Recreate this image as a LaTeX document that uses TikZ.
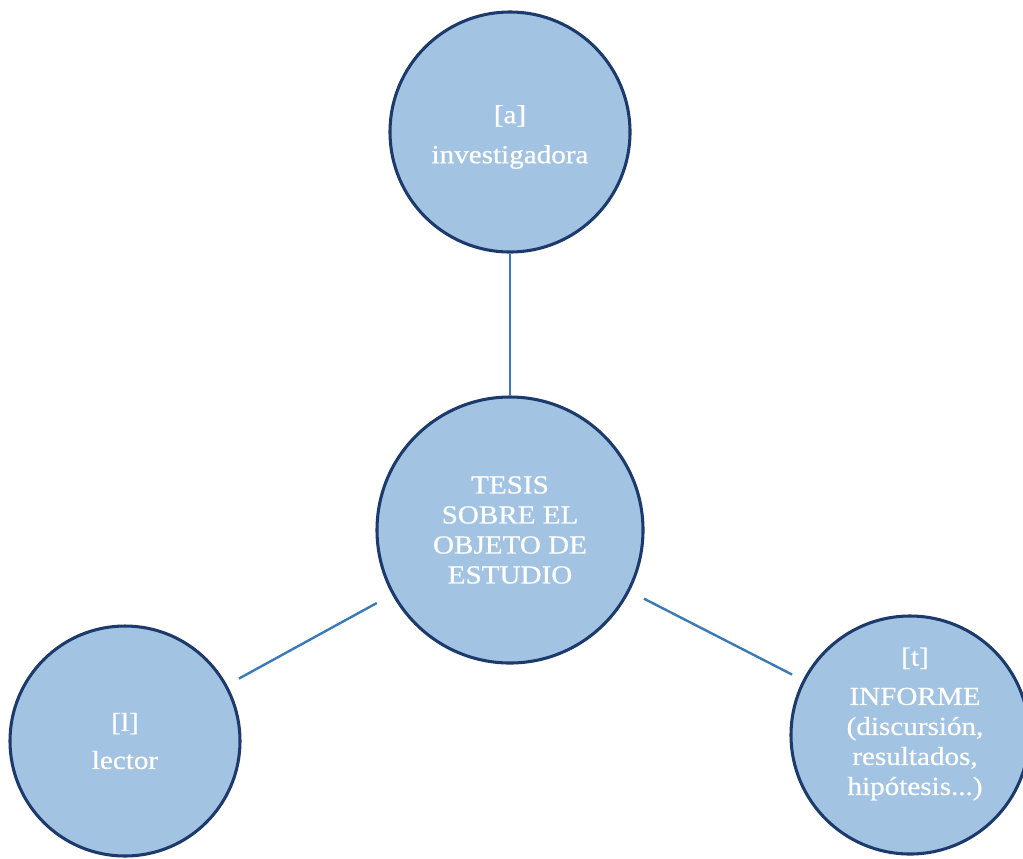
\documentclass[tikz,border=0pt]{standalone}
\usepackage{fontspec}
\setmainfont{Liberation Serif}[FakeStretch=1.12, FakeBold=0.6]
\definecolor{bubblefill}{RGB}{163,195,227}
\definecolor{bubbleedge}{RGB}{28,58,108}
\definecolor{linkblue}{RGB}{58,122,182}
\tikzset{
  bubble/.style={circle, draw=bubbleedge, line width=2.3pt, fill=bubblefill, inner sep=0pt},
  bubbletext/.style={text=white, align=center, inner sep=0pt,
    font=\fontsize{19.5}{22.5}\selectfont},
  conn/.style={draw=linkblue, line width=1.8pt}
}
\begin{document}
\begin{tikzpicture}[x=0.75pt, y=-0.75pt]
  \useasboundingbox (0,0) rectangle (1023,858);
  % circles
  \node[bubble, minimum size=180pt]   (inv) at (510,132) {};
  \node[bubble, minimum size=199.5pt] (tes) at (510,530) {};
  \node[bubble, minimum size=172.5pt] (lec) at (125,741) {};
  \node[bubble, minimum size=178.5pt] (inf) at (910,735) {};
  % connectors
  \draw[conn] (inv) -- (tes);
  \draw[conn, shorten <=13pt, shorten >=10pt] (tes) -- (lec);
  \draw[conn, shorten <=12pt, shorten >=9pt] (tes) -- (inf);
  % labels
  \node[bubbletext] (invT) at (510,137) {[a]\\[7.5pt]investigadora};
  \node[bubbletext] (tesT) at (510,530) {TESIS\\SOBRE EL\\OBJETO DE\\ESTUDIO};
  \node[bubbletext] (lecT) at (125,741) {[l]\\[6pt]lector};
  \node[bubbletext] (infT) at (915,724) {[t]\\[7pt]INFORME\\(discursión,\\resultados,\\hipótesis...)};
\end{tikzpicture}
\end{document}
